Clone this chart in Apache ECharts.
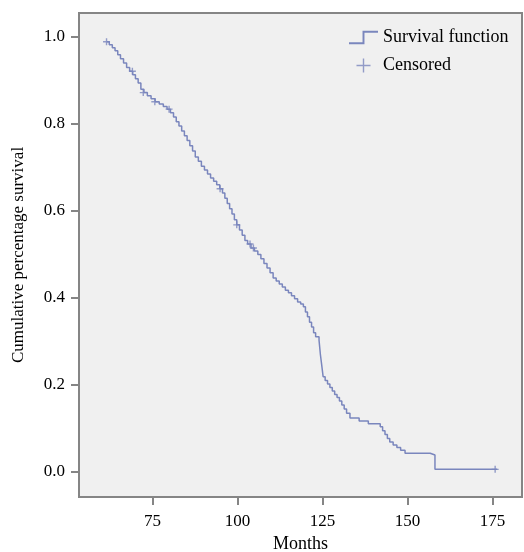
<!DOCTYPE html>
<html>
<head>
<meta charset="utf-8">
<script src="https://cdn.jsdelivr.net/npm/echarts@6/dist/echarts.min.js"></script>
<style>
  html, body { margin: 0; padding: 0; background: #fff; }
  #chart { width: 524px; height: 552px; }
</style>
</head>
<body>
<div id="chart"></div>
<script>
// step points of the survival curve: month, cumulative survival
var months = [61.5, 62.3, 63.2, 64.0, 64.8, 65.6, 66.5, 67.4, 68.3, 69.2, 70.0, 70.8, 71.6, 72.5, 73.5, 74.6,
  75.8, 77.0, 78.2, 79.3, 80.3, 81.2, 82.0, 82.8, 83.6, 84.4, 85.2, 86.0, 86.8, 87.6, 88.5, 89.4,
  90.3, 91.2, 92.1, 93.0, 93.9, 94.8, 95.6, 96.3, 97.0, 97.7, 98.4, 99.1, 99.8, 100.6, 101.4, 102.2,
  103.0, 104.0, 105.0, 106.0, 106.9, 107.8, 108.7, 109.6, 110.5, 111.4, 112.3, 113.2, 114.1, 115.0,
  115.9, 116.8, 117.7, 118.6, 119.4, 120.0, 120.6, 121.2, 121.8, 122.4, 123.0, 124.0, 124.4, 124.8,
  125.2, 125.8, 126.5, 127.2, 127.9, 128.6, 129.3, 130.0, 130.7, 131.4, 132.1, 133.1, 135.8, 138.5,
  142.0, 142.7, 143.4, 144.1, 144.8, 145.8, 146.9, 148.0, 149.3, 156.7, 158.1, 176.4];
var survival = [0.989, 0.982, 0.975, 0.968, 0.959, 0.950, 0.940, 0.930, 0.921, 0.913, 0.904, 0.894, 0.880, 0.872, 0.865, 0.858,
  0.851, 0.846, 0.840, 0.834, 0.826, 0.816, 0.805, 0.795, 0.784, 0.773, 0.762, 0.750, 0.738, 0.724, 0.714, 0.703,
  0.694, 0.685, 0.676, 0.668, 0.660, 0.651, 0.641, 0.629, 0.617, 0.605, 0.593, 0.580, 0.568, 0.556, 0.544, 0.532,
  0.524, 0.515, 0.508, 0.500, 0.490, 0.479, 0.469, 0.458, 0.446, 0.439, 0.432, 0.425, 0.418, 0.412,
  0.405, 0.398, 0.391, 0.386, 0.380, 0.368, 0.357, 0.344, 0.333, 0.320, 0.311, 0.303, 0.270, 0.245,
  0.219, 0.210, 0.202, 0.194, 0.186, 0.178, 0.171, 0.163, 0.154, 0.145, 0.135, 0.124, 0.117, 0.111,
  0.104, 0.095, 0.086, 0.077, 0.069, 0.062, 0.056, 0.050, 0.043, 0.039, 0.006, 0.006];

// censored observations
var censMonths = [61.5, 69.1, 72.3, 75.7, 79.9, 94.9, 99.8, 103.7, 104.7, 175.8];
var censSurvival = [0.989, 0.921, 0.872, 0.851, 0.834, 0.651, 0.568, 0.524, 0.515, 0.006];

var xTicks = [75, 100, 125, 150, 175];
var yTicks = [0, 0.2, 0.4, 0.6, 0.8, 1.0];

var lineColor = '#7a86bd';
var axisColor = '#858585';
var font = 'Liberation Serif';
var plus = 'path://M4,0h2v4h4v2h-4v4h-2v-4h-4v-2h4z';
var plusThin = 'path://M9,0h2v9h9v2h-9v9h-2v-9h-9v-2h9z';
var stepIcon = 'path://M0,12h14v-12h16v2h-14v12h-16z';

var curve = months.map(function(m, i) { return [m, survival[i]]; });
var cens = censMonths.map(function(m, i) { return [m, censSurvival[i]]; });

var chart = echarts.init(document.getElementById('chart'));
chart.setOption({
  animation: false,
  textStyle: { fontFamily: font },
  grid: {
    left: 79, top: 13, width: 443, height: 484,
    outerBoundsMode: 'none',
    show: true,
    backgroundColor: '#f0f0f0',
    borderColor: axisColor,
    borderWidth: 2
  },
  legend: {
    left: 349, top: 28,
    padding: 0,
    orient: 'vertical',
    itemWidth: 29, itemHeight: 14, itemGap: 9,
    textStyle: { fontFamily: font, fontSize: 18, lineHeight: 19, color: '#000' },
    data: [
      { name: 'Survival function', icon: stepIcon },
      { name: 'Censored', icon: plusThin }
    ]
  },
  xAxis: {
    type: 'value',
    min: 53.4, max: 183.7,
    name: 'Months',
    nameLocation: 'middle',
    nameGap: 34,
    nameTextStyle: { fontFamily: font, fontSize: 18, color: '#000' },
    axisLine: { show: true, onZero: false, lineStyle: { color: axisColor, width: 2 } },
    axisTick: { show: true, customValues: xTicks, length: 8, lineStyle: { color: axisColor, width: 2 } },
    axisLabel: { customValues: xTicks, margin: 16, fontFamily: font, fontSize: 17, color: '#000' },
    splitLine: { show: false }
  },
  yAxis: {
    type: 'value',
    min: -0.0575, max: 1.055,
    name: 'Cumulative percentage survival',
    nameLocation: 'middle',
    nameGap: 52,
    nameTextStyle: { fontFamily: font, fontSize: 17, color: '#000' },
    axisLine: { show: true, onZero: false, lineStyle: { color: axisColor, width: 2 } },
    axisTick: { show: true, customValues: yTicks, length: 8, lineStyle: { color: axisColor, width: 2 } },
    axisLabel: {
      customValues: yTicks, margin: 14, fontFamily: font, fontSize: 17, color: '#000',
      formatter: function(v) { return v.toFixed(1); }
    },
    splitLine: { show: false }
  },
  series: [
    {
      name: 'Survival function',
      type: 'line',
      step: 'end',
      showSymbol: false,
      data: curve,
      itemStyle: { color: lineColor },
      lineStyle: { color: lineColor, width: 1.5 }
    },
    {
      name: 'Censored',
      type: 'scatter',
      symbol: plus,
      symbolSize: 7,
      data: cens,
      itemStyle: { color: lineColor }
    }
  ]
});
</script>
</body>
</html>
